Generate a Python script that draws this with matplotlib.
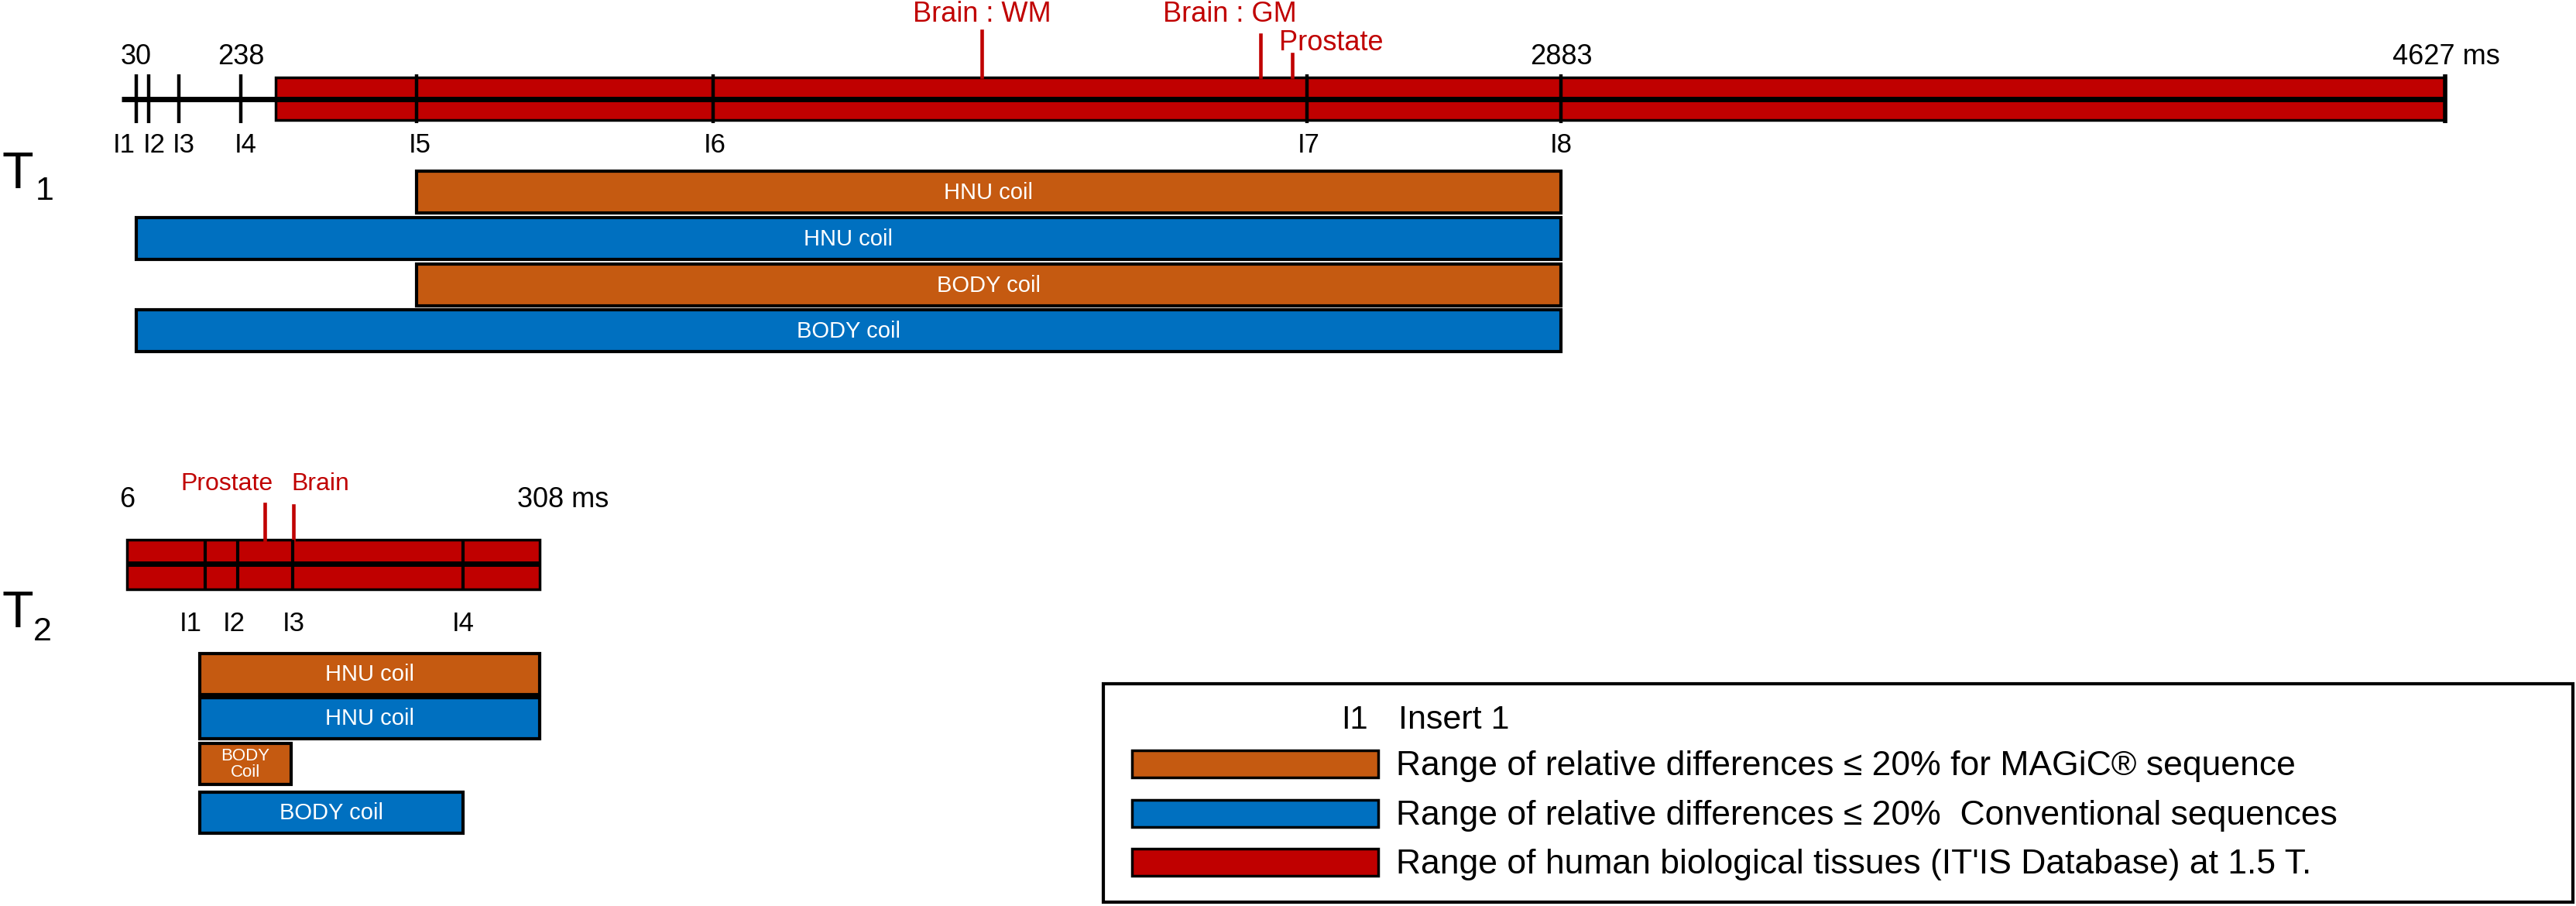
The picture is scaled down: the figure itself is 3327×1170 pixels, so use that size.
import numpy as np
import matplotlib
matplotlib.use('Agg')
import matplotlib.pyplot as plt
from matplotlib.patches import Rectangle

plt.rcParams['font.family'] = ['Liberation Sans', 'DejaVu Sans']

# ---------------- data (ms) ----------------
t1_inserts = ['I1', 'I2', 'I3', 'I4', 'I5', 'I6', 'I7', 'I8']
t1_insert_ms = [30, 55, 115, 238, 590, 1184, 2374, 2883]
t1_tissue_range = [308, 4627]
t1_tick_values = [30, 238, 2883]
t1_max = 4627
t1_tissues = ['Brain : WM', 'Brain : GM', 'Prostate']
t1_tissue_ms = [1723, 2281, 2345]
t1_coils = ['HNU coil', 'HNU coil', 'BODY coil', 'BODY coil']
t1_coil_kind = ['magic', 'conv', 'magic', 'conv']
t1_coil_start = [590, 30, 590, 30]
t1_coil_end = [2883, 2883, 2883, 2883]

t2_inserts = ['I1', 'I2', 'I3', 'I4']
t2_insert_ms = [63, 87, 127, 252]
t2_tissue_range = [6, 308]
t2_tissues = ['Prostate', 'Brain']
t2_tissue_ms = [107, 128]
t2_coils = ['HNU coil', 'HNU coil', 'BODY\nCoil', 'BODY coil']
t2_coil_kind = ['magic', 'conv', 'magic', 'conv']
t2_coil_start = [59, 59, 59, 59]
t2_coil_end = [308, 308, 126, 252]

legend_kinds = ['magic', 'conv', 'tissue']
legend_labels = ['Range of relative differences \u2264 20% for MAGiC\u00ae sequence',
                 'Range of relative differences \u2264 20%  Conventional sequences',
                 "Range of human biological tissues (IT'IS Database) at 1.5 T."]

colors = {'magic': '#C55A11', 'conv': '#0070C0', 'tissue': '#C00000'}
RED = '#C00000'

# ---------------- layout (pixels) ----------------
W, H = 3327, 1170
fig = plt.figure(figsize=(W / 100, H / 100), dpi=100)

base = fig.add_axes([0, 0, 1, 1])
base.set_xlim(0, W)
base.set_ylim(H, 0)
base.axis('off')


def time_axes(ms_anchor, px_anchor):
    # schematic (piecewise linear) time axis: ms -> pixel column
    ms_a = np.asarray(ms_anchor, float)
    px_a = np.asarray(px_anchor, float)
    lo = (px_a[1] - px_a[0]) / (ms_a[1] - ms_a[0])
    hi = (px_a[-1] - px_a[-2]) / (ms_a[-1] - ms_a[-2])
    ms_e = np.r_[ms_a[0] - 1e5, ms_a, ms_a[-1] + 1e5]
    px_e = np.r_[px_a[0] - 1e5 * lo, px_a, px_a[-1] + 1e5 * hi]

    def fwd(x):
        return np.interp(x, ms_e, px_e)

    def inv(p):
        return np.interp(p, px_e, ms_e)

    ax = fig.add_axes([0, 0, 1, 1])
    ax.set_xscale('function', functions=(fwd, inv))
    ax.set_xlim(inv(0), inv(W))
    ax.set_ylim(H, 0)
    ax.axis('off')
    ax.patch.set_alpha(0)
    return ax


def label(ax, s, x, y, dx=0, size=26, color='black', ha='center', **kw):
    ax.annotate(s, xy=(x, y), xytext=(dx * 0.72, 0), textcoords='offset points',
                ha=ha, va='baseline', fontsize=size, color=color, **kw)


# ---------------- T1 ----------------
ax1 = time_axes(t1_tick_values + [t1_max], [176, 311, 2016, 3158])
ax1.barh(127, t1_tissue_range[1] - t1_tissue_range[0], left=t1_tissue_range[0],
         height=55, color=colors['tissue'], edgecolor='black', linewidth=2.5, zorder=2)
ax1.plot([0, t1_max], [128, 128], color='black', linewidth=5, zorder=3,
         solid_capstyle='butt')
ax1.vlines(t1_insert_ms, 96, 159, color='black', linewidth=3.2, zorder=4)
ax1.vlines([t1_max], 96, 159, color='black', linewidth=4, zorder=4)

for v in t1_tick_values:
    label(ax1, str(v), v, 83)
label(ax1, f'{t1_max} ms', t1_max, 83, dx=-68, ha='left')

t1_label_dx = [-1, -7, 6, 6, 4, 2, 2, 0]
for name, v, dx in zip(t1_inserts, t1_insert_ms, t1_label_dx):
    if name == 'I1':
        label(ax1, name, v, 197, dx=dx, size=25, ha='right')
    elif name == 'I2':
        label(ax1, name, v, 197, dx=dx, size=25, ha='left')
    else:
        label(ax1, name, v, 197, dx=dx, size=25)

t1_line_top = [40, 45, 70]
for name, v, top in zip(t1_tissues, t1_tissue_ms, t1_line_top):
    ax1.plot([v, v], [top, 99], color=RED, linewidth=3.3, zorder=3)
label(ax1, t1_tissues[0], t1_tissue_ms[0], 28, color=RED)
label(ax1, t1_tissues[1], t1_tissue_ms[1], 28, dx=-40, color=RED)
label(ax1, t1_tissues[2], t1_tissue_ms[2], 65, dx=-17, color=RED, ha='left')

t1_rows = [248, 308, 368, 427]
for name, kind, a, b, y in zip(t1_coils, t1_coil_kind, t1_coil_start, t1_coil_end, t1_rows):
    ax1.barh(y, b - a, left=a, height=54, color=colors[kind],
             edgecolor='black', linewidth=3, zorder=2)
    mid = ax1.xaxis.get_transform().inverted().transform(
        [(ax1.xaxis.get_transform().transform([a])[0] +
          ax1.xaxis.get_transform().transform([b])[0]) / 2])[0]
    ax1.text(mid, y + 1, name, ha='center', va='center',
             fontsize=21, color='white', zorder=5)

base.text(2, 243, 'T', fontsize=48, va='baseline', ha='left')
base.text(46, 258, '1', fontsize=31, va='baseline', ha='left')

# ---------------- T2 ----------------
ax2 = time_axes(t2_tissue_range, [164, 697])
ax2.barh(729, t2_tissue_range[1] - t2_tissue_range[0], left=t2_tissue_range[0],
         height=64, color=colors['tissue'], edgecolor='black', linewidth=2.5, zorder=2)
ax2.plot(t2_tissue_range, [728, 728], color='black', linewidth=5, zorder=3,
         solid_capstyle='butt')
ax2.vlines(t2_insert_ms, 697, 762, color='black', linewidth=3, zorder=4)

label(ax2, str(t2_tissue_range[0]), t2_tissue_range[0], 655)
label(ax2, f'{t2_tissue_range[1]} ms', t2_tissue_range[1], 655, dx=-29, ha='left')

t2_label_dx = [-18, -5, 2, 0]
for name, v, dx in zip(t2_inserts, t2_insert_ms, t2_label_dx):
    label(ax2, name, v, 815, dx=dx, size=25)

t2_line_top = [651, 653]
for v, top in zip(t2_tissue_ms, t2_line_top):
    ax2.plot([v, v], [top, 697], color=RED, linewidth=3.3, zorder=3)
label(ax2, t2_tissues[0], t2_tissue_ms[0], 633, dx=10, size=23, color=RED, ha='right')
label(ax2, t2_tissues[1], t2_tissue_ms[1], 633, dx=-3, size=23, color=RED, ha='left')

t2_rows = [870, 927, 986, 1049]
for name, kind, a, b, y in zip(t2_coils, t2_coil_kind, t2_coil_start, t2_coil_end, t2_rows):
    ax2.barh(y, b - a, left=a, height=53, color=colors[kind],
             edgecolor='black', linewidth=3, zorder=2)
    small = '\n' in name
    ax2.text((a + b) / 2, y + 1, name, ha='center', va='center',
             fontsize=16 if small else 21, color='white', zorder=5,
             linespacing=1.05)

base.text(2, 810, 'T', fontsize=48, va='baseline', ha='left')
base.text(43, 827, '2', fontsize=31, va='baseline', ha='left')

# ---------------- legend ----------------
base.add_patch(Rectangle((1425, 883), 3323 - 1425, 1165 - 883, fill=False,
                         edgecolor='black', linewidth=3))
base.text(1749, 941, 'I1', fontsize=30, ha='center', va='baseline')
base.text(1806, 941, 'Insert 1', fontsize=31, ha='left', va='baseline')
legend_rows = [986, 1050, 1113]
for kind, text, y in zip(legend_kinds, legend_labels, legend_rows):
    base.add_patch(Rectangle((1462, y - 17), 318, 35, facecolor=colors[kind],
                             edgecolor='black', linewidth=2.5))
    base.text(1803, y + 15, text, fontsize=32, ha='left', va='baseline')

fig.savefig('out.png', dpi=100)
